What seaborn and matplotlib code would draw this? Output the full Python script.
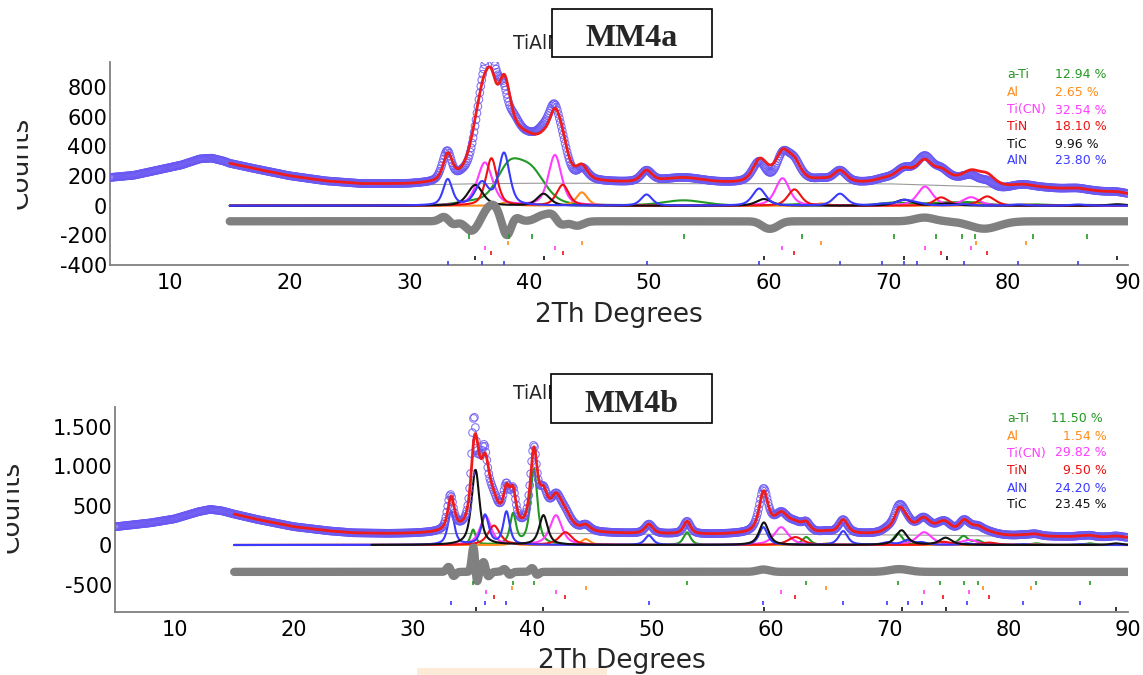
import numpy as np
import matplotlib
matplotlib.use("Agg")
import matplotlib.pyplot as plt
import seaborn as sns
from matplotlib.patches import Rectangle
from matplotlib.ticker import MultipleLocator, FuncFormatter
from matplotlib.transforms import Bbox, TransformedBbox

# ---------------- phase colours ----------------
phase_colors = {
    "a-Ti": "#229922",
    "Al": "#ff8c1a",
    "Ti(CN)": "#ff3cff",
    "TiN": "#ee1111",
    "TiC": "#111111",
    "AlN": "#3a3aff",
}

# ---------------- MM4a ----------------
mm4a_phases = ["a-Ti", "Al", "Ti(CN)", "TiN", "TiC", "AlN"]
mm4a_wt = [12.94, 2.65, 32.54, 18.10, 9.96, 23.80]

a_ti_pos_a = [35.0, 38.3, 40.2, 52.9, 62.8, 70.5, 74.0, 76.1, 77.2, 82.1, 86.6]
a_ti_int_a = [20, 240, 210, 35, 10, 20, 15, 12, 12, 8, 5]
a_ti_fwhm_a = [2.5, 2.6, 2.8, 4.0, 3.0, 3.0, 3.0, 3.0, 3.0, 3.0, 3.0]

al_pos_a = [38.2, 44.4, 64.4, 77.3, 81.5]
al_int_a = [25, 90, 15, 12, 8]
al_fwhm_a = [1.2, 1.1, 1.3, 1.4, 1.4]

ticn_pos_a = [36.3, 42.15, 61.15, 73.05, 76.9]
ticn_int_a = [290, 340, 185, 128, 55]
ticn_fwhm_a = [1.5, 1.3, 1.4, 1.5, 1.6]

tin_pos_a = [36.85, 42.8, 62.15, 74.4, 78.25]
tin_int_a = [320, 140, 110, 55, 62]
tin_fwhm_a = [1.1, 1.2, 1.3, 1.4, 1.5]

tic_pos_a = [35.5, 41.2, 59.6, 71.3, 74.9, 89.1]
tic_int_a = [140, 80, 45, 40, 15, 10]
tic_fwhm_a = [1.5, 1.3, 1.5, 1.7, 1.7, 1.7]

aln_pos_a = [33.2, 36.05, 37.9, 49.8, 59.2, 65.95, 69.5, 71.3, 72.4, 76.3, 80.8, 85.8]
aln_int_a = [175, 150, 350, 75, 115, 80, 10, 35, 15, 10, 8, 8]
aln_fwhm_a = [0.9, 1.3, 1.1, 1.1, 1.3, 1.3, 1.4, 1.5, 1.4, 1.5, 1.5, 1.5]

bg_tth_a = [5, 7, 9, 11, 12.5, 13.5, 14.5, 15, 17, 20, 23, 26, 30, 35, 40, 45,
            50, 55, 60, 65, 70, 75, 80, 85, 90]
bg_cnt_a = [190, 205, 240, 275, 315, 320, 300, 285, 250, 200, 165, 145, 140, 148,
            152, 152, 150, 148, 150, 150, 148, 135, 122, 110, 76]

res_pos_a = [33.0, 33.5, 35.2, 36.6, 37.2, 38.15, 38.8, 41.2, 42.0, 42.6, 44.0,
             59.8, 60.5, 73.0, 78.0]
res_amp_a = [40, -30, -65, 80, 60, -105, 30, 40, 35, -30, -30, -35, -30, 25, -50]
res_wid_a = [0.4, 0.4, 0.5, 0.5, 0.4, 0.35, 0.4, 0.6, 0.4, 0.4, 0.5, 0.5, 0.5, 0.8, 1.2]

# ---------------- MM4b ----------------
mm4b_phases = ["a-Ti", "Al", "Ti(CN)", "TiN", "AlN", "TiC"]
mm4b_wt = [11.50, 1.54, 29.82, 9.50, 24.20, 23.45]

a_ti_pos_b = [35.05, 38.4, 40.15, 53.0, 63.0, 70.7, 74.2, 76.2, 77.4, 82.3, 86.8]
a_ti_int_b = [190, 380, 960, 160, 100, 145, 30, 110, 50, 20, 20]
a_ti_fwhm_b = [0.5, 0.6, 0.7, 0.7, 0.8, 0.9, 0.9, 0.9, 0.9, 1.0, 1.0]

al_pos_b = [38.3, 44.5, 64.7, 77.8, 81.9]
al_int_b = [30, 75, 20, 15, 10]
al_fwhm_b = [0.7, 0.9, 1.0, 1.0, 1.0]

ticn_pos_b = [36.1, 42.0, 60.9, 72.9, 76.7]
ticn_int_b = [365, 375, 225, 160, 60]
ticn_fwhm_b = [1.1, 1.2, 1.4, 1.5, 1.6]

tin_pos_b = [36.8, 42.8, 62.1, 74.5, 78.3]
tin_int_b = [245, 160, 100, 40, 30]
tin_fwhm_b = [1.2, 1.3, 1.5, 1.6, 1.6]

aln_pos_b = [33.2, 36.05, 37.85, 49.8, 59.4, 66.1, 69.8, 71.5, 72.7, 76.5, 81.2, 86.0]
aln_int_b = [425, 375, 415, 120, 225, 175, 30, 60, 30, 20, 10, 10]
aln_fwhm_b = [0.65, 0.75, 0.65, 0.8, 0.85, 0.9, 1.0, 1.0, 1.0, 1.0, 1.0, 1.0]

tic_pos_b = [35.25, 40.95, 59.45, 71.0, 74.7, 89.0]
tic_int_b = [950, 375, 285, 185, 90, 20]
tic_fwhm_b = [0.8, 0.85, 0.95, 1.1, 1.2, 1.2]

bg_tth_b = [5, 8, 10, 12, 13, 14, 15, 17, 20, 23, 25, 28, 30, 35, 40, 45, 50,
            55, 60, 65, 70, 75, 80, 85, 90]
bg_cnt_b = [230, 280, 330, 420, 450, 430, 390, 320, 230, 175, 150, 140, 140, 148,
            150, 145, 135, 130, 138, 132, 128, 122, 112, 102, 90]

res_pos_b = [33.05, 33.35, 35.1, 35.35, 35.6, 35.95, 36.3, 37.7, 38.1, 40.05,
             40.35, 59.4, 70.8]
res_amp_b = [80, -70, 350, -200, 60, 130, -60, 40, -40, 60, -50, 30, 35]
res_wid_b = [0.2, 0.2, 0.15, 0.15, 0.15, 0.15, 0.2, 0.2, 0.2, 0.2, 0.2, 0.5, 0.8]

# ---------------- helpers ----------------
FIT_START = 15.0
W, H = 1143, 675


def pseudo_voigt(x, pos, height, fwhm, eta):
    out = np.zeros_like(x)
    for p, h, w in zip(pos, height, fwhm):
        d = (x - p) / w
        g = np.exp(-4 * np.log(2) * d ** 2)
        lor = 1.0 / (1.0 + 4 * d ** 2)
        out += h * (eta * lor + (1 - eta) * g)
    return out


def bumps(x, pos, amp, wid):
    out = np.zeros_like(x)
    for p, a, w in zip(pos, amp, wid):
        out += a * np.exp(-0.5 * ((x - p) / w) ** 2)
    return out


sample_a = dict(
    phases=mm4a_phases, wt=mm4a_wt,
    peaks={"a-Ti": (a_ti_pos_a, a_ti_int_a, a_ti_fwhm_a, 0.3),
           "Al": (al_pos_a, al_int_a, al_fwhm_a, 0.5),
           "Ti(CN)": (ticn_pos_a, ticn_int_a, ticn_fwhm_a, 0.5),
           "TiN": (tin_pos_a, tin_int_a, tin_fwhm_a, 0.5),
           "TiC": (tic_pos_a, tic_int_a, tic_fwhm_a, 0.5),
           "AlN": (aln_pos_a, aln_int_a, aln_fwhm_a, 0.5)},
    bg=(bg_tth_a, bg_cnt_a), res=(res_pos_a, res_amp_a, res_wid_a),
    diff_offset=-105, tick_rows=[-210, -251, -285, -319, -353, -386], tick_half=16,
    ylim=(-400, 970), ymajor=200, yminor=50,
    rect=(110, 62, 1128, 265), name="MM4a", box=(552, 9, 712, 57),
    title_xy=(513, 49), label_x=28, label_clip=17, label_y=163, xlabel_base=322,
    leg_y=[75, 92, 110, 127, 144, 161], val_x=[1055] * 6, line_start={},
)

sample_b = dict(
    phases=mm4b_phases, wt=mm4b_wt,
    peaks={"a-Ti": (a_ti_pos_b, a_ti_int_b, a_ti_fwhm_b, 0.7),
           "Al": (al_pos_b, al_int_b, al_fwhm_b, 0.7),
           "Ti(CN)": (ticn_pos_b, ticn_int_b, ticn_fwhm_b, 0.7),
           "TiN": (tin_pos_b, tin_int_b, tin_fwhm_b, 0.7),
           "AlN": (aln_pos_b, aln_int_b, aln_fwhm_b, 0.7),
           "TiC": (tic_pos_b, tic_int_b, tic_fwhm_b, 0.7)},
    bg=(bg_tth_b, bg_cnt_b), res=(res_pos_b, res_amp_b, res_wid_b),
    diff_offset=-340, tick_rows=[-481, -544, -595, -658, -734, -810], tick_half=30,
    ylim=(-848, 1747), ymajor=500, yminor=100,
    rect=(115, 407, 1128, 612), name="MM4b", box=(551, 374, 712, 423),
    title_xy=(513, 399), label_x=19, label_clip=7, label_y=507, xlabel_base=668,
    leg_y=[419, 436, 453, 471, 488, 505], val_x=[1051, 1063, 1055, 1063, 1055, 1055],
    line_start={"TiC": 26.5},
)

# ---------------- figure ----------------
sns.set_style("white")
plt.rcParams["font.family"] = ["DejaVu Sans"]
plt.rcParams["axes.unicode_minus"] = False

fig = plt.figure(figsize=(W / 100, H / 100), dpi=100)
fig.patch.set_facecolor("white")

obs_color = "#6a58f2"
grey = "#808080"

x_fit = np.arange(FIT_START, 90.0001, 0.02)
x_obs = np.arange(5.0, 90.0001, 0.08)


def clip_to(artist, x0_px, x1_px):
    artist.set_clip_box(TransformedBbox(Bbox.from_extents(x0_px / W, 0, x1_px / W, 1),
                                        fig.transFigure))
    artist.set_clip_on(True)


def draw_sample(s):
    l, t, r, b = s["rect"]
    ax = fig.add_axes([l / W, 1 - b / H, (r - l) / W, (b - t) / H])
    ax.set_facecolor("none")

    def model(x):
        tot = np.interp(x, *s["bg"])
        for ph in s["phases"]:
            pos, hgt, fw, eta = s["peaks"][ph]
            tot = tot + pseudo_voigt(x, pos, hgt, fw, eta)
        return tot

    bg_fit = np.interp(x_fit, *s["bg"])
    calc = model(x_fit)
    obs = model(x_obs) + bumps(x_obs, *s["res"])
    diff = bumps(x_fit, *s["res"]) + s["diff_offset"]

    # background
    sns.lineplot(x=x_fit, y=bg_fit, color="#9a9a9a", lw=0.8, ax=ax,
                 estimator=None, sort=False, zorder=2)
    # phase contributions
    for ph in s["phases"]:
        pos, hgt, fw, eta = s["peaks"][ph]
        start = s["line_start"].get(ph, FIT_START)
        xs = x_fit[x_fit >= start]
        sns.lineplot(x=xs, y=pseudo_voigt(xs, pos, hgt, fw, eta),
                     color=phase_colors[ph], lw=1.5, ax=ax,
                     estimator=None, sort=False, zorder=3)
    # observed
    sns.scatterplot(x=x_obs, y=obs, marker="o", s=30, facecolors="none",
                    edgecolor=obs_color, linewidth=0.75, alpha=0.85, ax=ax, zorder=4)
    # calculated
    sns.lineplot(x=x_fit, y=calc, color="#ee1c1c", lw=2.0, ax=ax,
                 estimator=None, sort=False, zorder=5)
    # difference
    sns.lineplot(x=x_fit, y=diff, color=grey, lw=6.0, ax=ax,
                 estimator=None, sort=False, zorder=5)
    # reflection markers
    for ph, row in zip(s["phases"], s["tick_rows"]):
        pos = s["peaks"][ph][0]
        ax.vlines(pos, row - s["tick_half"], row + s["tick_half"],
                  color=phase_colors[ph], lw=1.2, zorder=6)

    ax.set_xlim(5, 90)
    ax.set_ylim(*s["ylim"])
    for side in ("top", "right"):
        ax.spines[side].set_visible(False)
    for side in ("left", "bottom"):
        ax.spines[side].set_color(grey)
        ax.spines[side].set_linewidth(1.3)
    ax.xaxis.set_major_locator(MultipleLocator(10))
    ax.xaxis.set_minor_locator(MultipleLocator(2.5))
    ax.yaxis.set_major_locator(MultipleLocator(s["ymajor"]))
    ax.yaxis.set_minor_locator(MultipleLocator(s["yminor"]))
    ax.yaxis.set_major_formatter(FuncFormatter(
        lambda v, _: f"{int(round(v)):,}".replace(",", ".")))
    ax.tick_params(which="both", direction="in", color=grey, labelsize=15,
                   labelcolor="black")
    ax.tick_params(which="major", length=6, width=1.1)
    ax.tick_params(which="minor", length=3, width=0.9)
    ax.tick_params(axis="x", pad=6)
    ax.tick_params(axis="y", pad=2)

    ax.set_xlabel("2Th Degrees", fontsize=19)
    ax.xaxis.label.set_va("baseline")
    ax.xaxis.set_label_coords(0.5, (b - s["xlabel_base"]) / (b - t))

    # y title, cut at the left image border
    ylab = fig.text(s["label_x"] / W, 1 - s["label_y"] / H, "Counts", fontsize=19,
                    rotation=90, rotation_mode="anchor", ha="center",
                    va="baseline")
    clip_to(ylab, s["label_clip"], W)

    # phase quantities
    for ph, wt, yy, vx in zip(s["phases"], s["wt"], s["leg_y"], s["val_x"]):
        fig.text(1007 / W, 1 - yy / H, ph, color=phase_colors[ph], fontsize=9,
                 va="center", ha="left")
        fig.text(vx / W, 1 - yy / H, f"{wt:.2f} %", color=phase_colors[ph],
                 fontsize=9, va="center", ha="left")

    # title, partly covered by the sample box
    tx, ty = s["title_xy"]
    bx0, by0, bx1, by1 = s["box"]
    ttl = fig.text(tx / W, 1 - ty / H, "TiAlN", fontsize=13.5, ha="left",
                   va="baseline", zorder=1)
    clip_to(ttl, 0, bx0)
    fig.patches.append(Rectangle((bx0 / W, 1 - by1 / H), (bx1 - bx0) / W,
                                 (by1 - by0) / H, transform=fig.transFigure,
                                 facecolor="white", edgecolor="black", lw=1.2,
                                 zorder=2))
    fig.text((bx0 + bx1) / 2 / W, 1 - ((by0 + by1) / 2 + 6) / H, s["name"],
             family="Liberation Serif", fontweight="bold", fontsize=23,
             ha="center", va="center", zorder=3)
    return ax


draw_sample(sample_a)
draw_sample(sample_b)

fig.patches.append(Rectangle((417 / W, 0), 190 / W, 7 / H, transform=fig.transFigure,
                             facecolor="#fcebd6", edgecolor="none", zorder=1))

fig.savefig("out.png", dpi=100, facecolor="white")
